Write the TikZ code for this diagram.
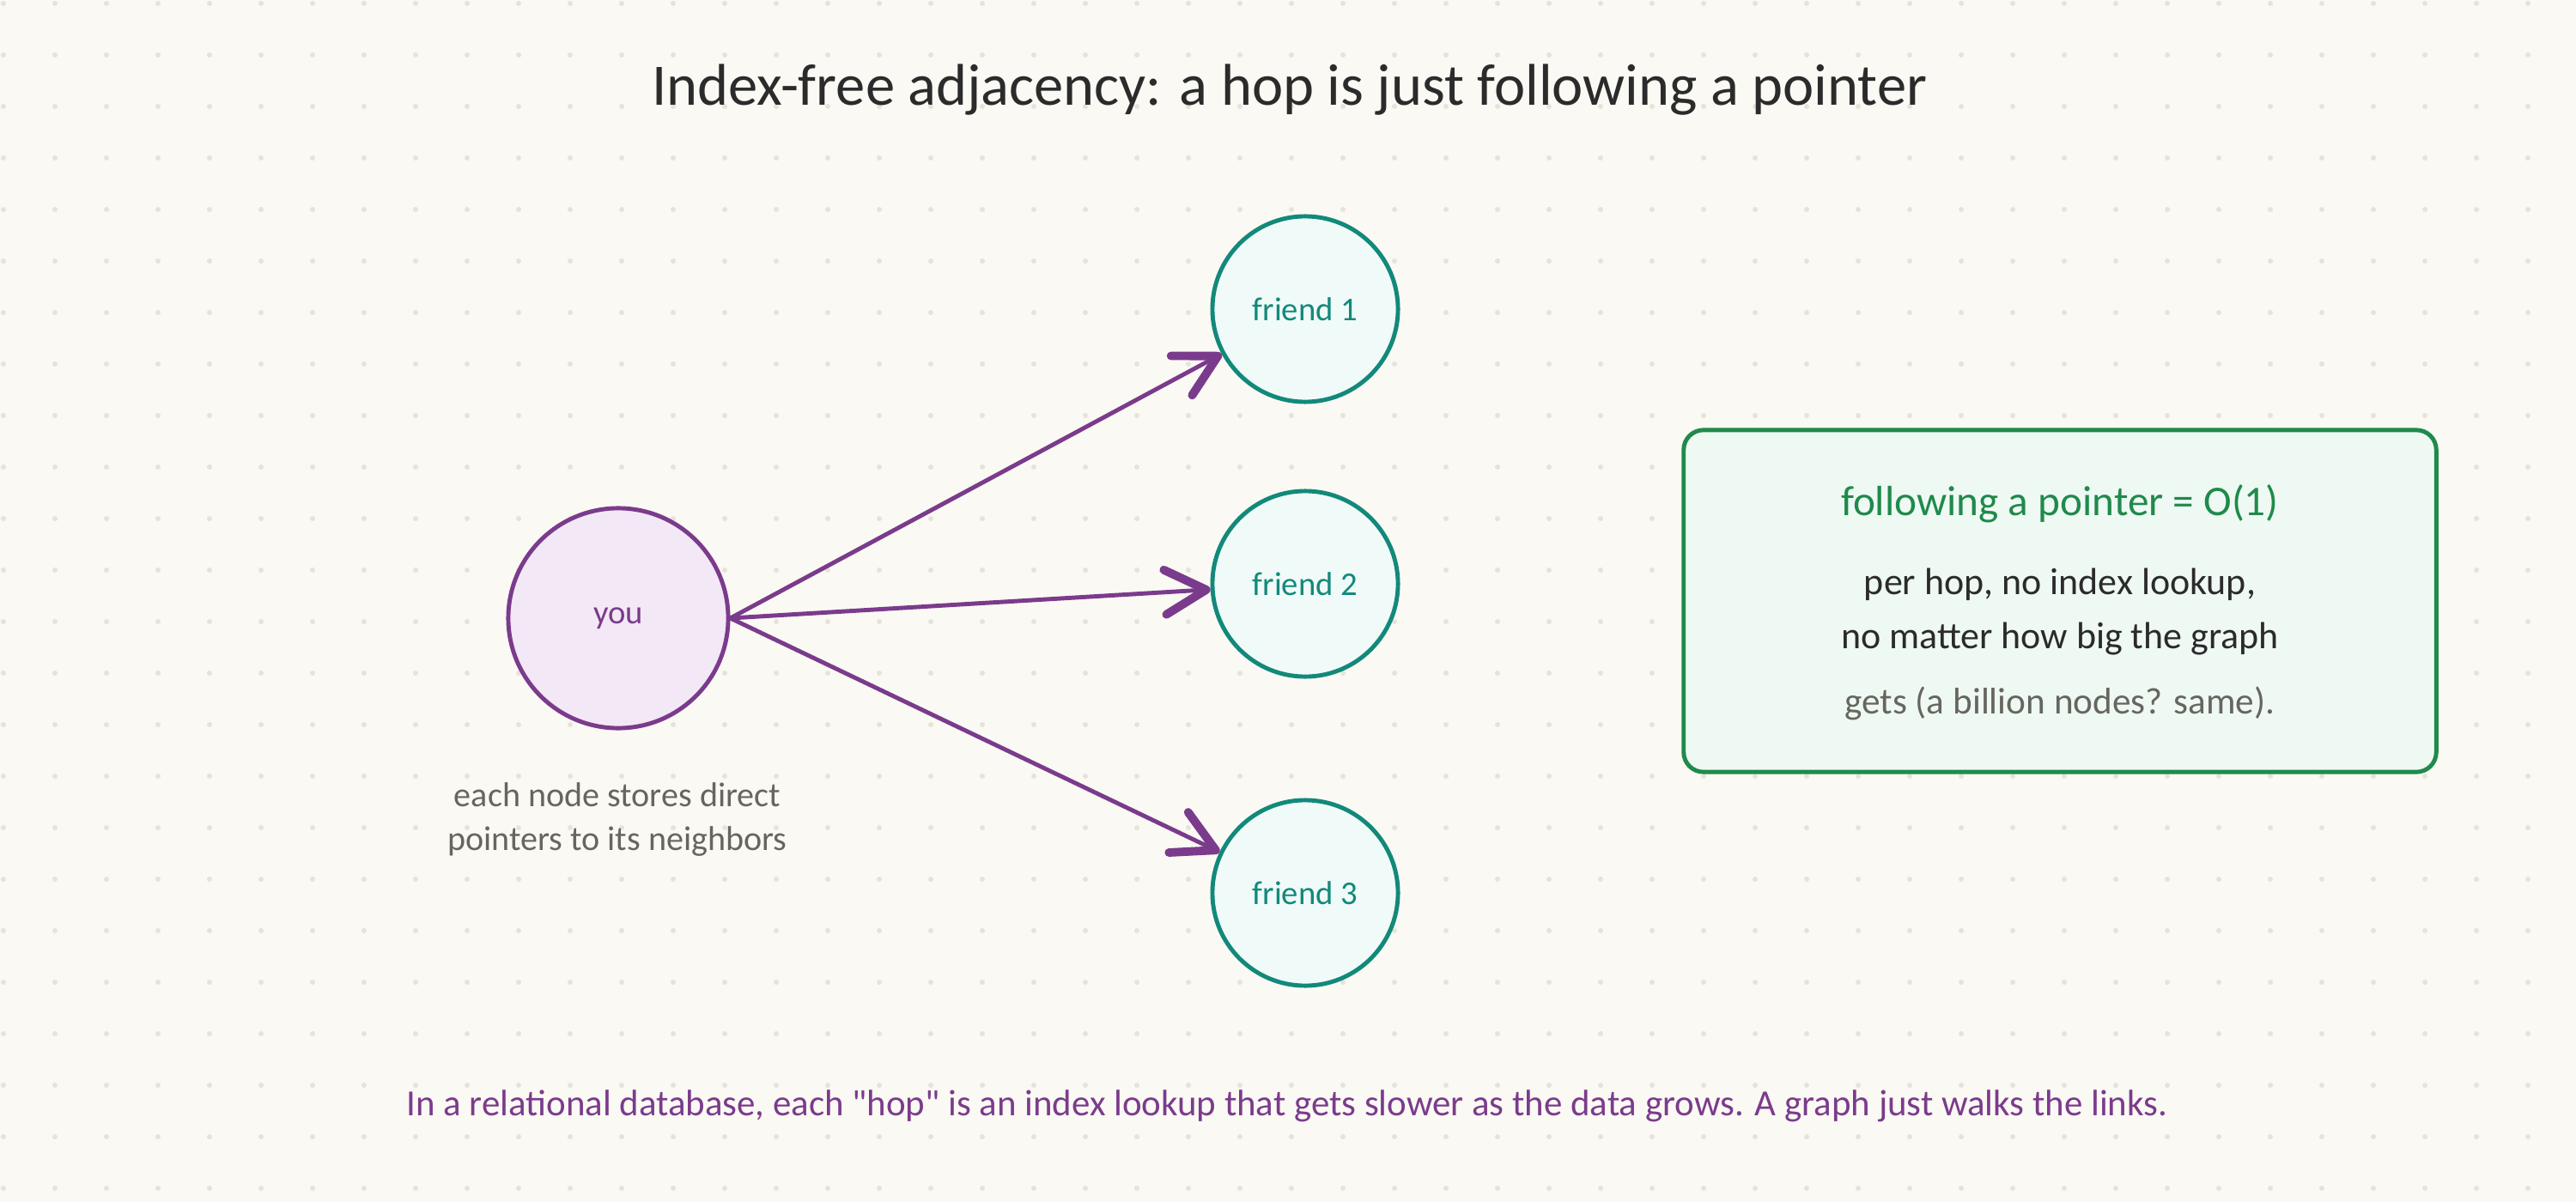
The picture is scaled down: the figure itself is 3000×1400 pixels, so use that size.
\documentclass[tikz,border=0pt]{standalone}
\usepackage{fontspec}
\setmainfont{Carlito}[Ligatures=TeXOff]
\usetikzlibrary{arrows.meta}

\definecolor{paper}{HTML}{FAF9F4}
\definecolor{griddot}{HTML}{E6E3D8}
\definecolor{youline}{HTML}{7B3B8C}
\definecolor{youfill}{HTML}{F3E8F5}
\definecolor{friendline}{HTML}{12897A}
\definecolor{friendfill}{HTML}{F0FAF8}
\definecolor{boxline}{HTML}{1F8A4C}
\definecolor{boxfill}{HTML}{EFF9F3}
\definecolor{inkdark}{HTML}{2B2B2B}
\definecolor{inkgray}{HTML}{66665F}

\tikzset{
	person/.style={circle, draw=youline, fill=youfill, line width=1.4pt,
		minimum size=2.56cm, text=youline, font=\fontsize{11}{13}\selectfont},
	friend/.style={circle, draw=friendline, fill=friendfill, line width=1.4pt,
		minimum size=2.16cm, text=friendline, font=\fontsize{11}{13}\selectfont},
	hop/.style={draw=youline, line width=1.4pt,
		-{Straight Barb[length=4.8mm, width=5.2mm, line width=2.8pt, round]}},
	infobox/.style={draw=boxline, fill=boxfill, line width=1.4pt,
		rounded corners=0.23cm, minimum width=8.76cm, minimum height=3.98cm},
	boxline/.style={font=\fontsize{12.5}{15}\selectfont, text=inkdark}
}

\begin{document}
\begin{tikzpicture}[x=0.01cm, y=-0.01cm]
	% Paper and its dot grid
	\fill[paper] (0,0) rectangle (3000,1400);
	\useasboundingbox (0,0) rectangle (3000,1400);
	\foreach \gx in {4,64,...,2996} {
		\foreach \gy in {4,64,...,1396} {
			\fill[griddot] (\gx,\gy) circle (0.85pt);
		}
	}

	% Title
	\node[font=\fontsize{19.5}{23}\selectfont, text=inkdark] (title) at (1502,105)
		{Index-free adjacency: a hop is just following a pointer};

	% The node and its neighbors
	\node[person] (you) at (720,720) {you};
	\node[friend] (f1) at (1520,360) {friend 1};
	\node[friend] (f2) at (1520,680) {friend 2};
	\node[friend] (f3) at (1520,1040) {friend 3};

	% Hops are just pointers
	\foreach \f in {f1,f2,f3} {
		\draw[hop] (you.east) -- (\f);
	}

	\node[align=center, text=inkgray, font=\fontsize{11.4}{14.5}\selectfont] (note) at (719,955)
		{each node stores direct\\pointers to its neighbors};

	% Cost box
	\node[infobox] (box) at (2399,700) {};
	\node[boxline, text=boxline, font=\fontsize{14}{16}\selectfont] (cost) at (2399,587)
		{following a pointer = O(1)};
	\node[boxline] (line1) at (2399,681) {per hop, no index lookup,};
	\node[boxline] (line2) at (2399,744) {no matter how big the graph};
	\node[boxline, text=inkgray, font=\fontsize{12.3}{15}\selectfont] (line3) at (2399,819)
		{gets (a billion nodes? same).};

	% Footnote
	\node[text=youline, font=\fontsize{12.2}{14}\selectfont] (foot) at (1499,1288)
		{In a relational database, each "hop" is an index lookup that gets slower as the data grows. A graph just walks the links.};
\end{tikzpicture}
\end{document}
